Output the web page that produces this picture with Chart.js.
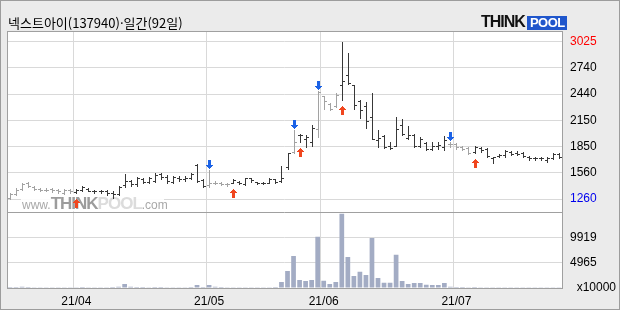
<!DOCTYPE html>
<html lang="ko">
<head>
<meta charset="utf-8">
<title>넥스트아이(137940) 일간</title>
<script src="https://cdn.jsdelivr.net/npm/chart.js@4.4.1/dist/chart.umd.min.js"></script>
<style>
  html, body { margin: 0; padding: 0; background: #ebebeb; }
  #wrap { position: relative; width: 620px; height: 310px; background: #ebebeb; overflow: hidden; }
  #wrap canvas { position: absolute; left: 0; top: 0; }
  #frame { position: absolute; left: 0; top: 0; width: 618px; height: 308px; border: 1px solid #9c9c9c; pointer-events: none; }
  #title { position: absolute; left: 8px; top: 15px; font-size: 13px; line-height: 16px; color: #000;
           font-family: "Noto Sans CJK KR", "Noto Sans", sans-serif; white-space: nowrap; }
  #logo { position: absolute; left: 481px; top: 14px; line-height: 16px; white-space: nowrap;
          font-family: "Liberation Sans", Arial, sans-serif; font-weight: bold; }
  #logo .think { font-size: 16px; letter-spacing: -1px; color: #111; }
  #logo .pool { display: inline-block; font-size: 13px; line-height: 14px; color: #fff; background: #1f56cc;
                padding: 0 2px 0 3px; letter-spacing: -0.5px; margin-left: 2px; }
</style>
</head>
<body>
<div id="wrap">
  <canvas id="stock-chart" width="620" height="310"></canvas>
  <div id="title">넥스트아이(137940)·일간(92일)</div>
  <div id="logo"><span class="think">THINK</span><span class="pool">POOL</span></div>
  <div id="frame"></div>
</div>
<script>
// trading days, 2021-03-17 .. 2021-07-26
const dates = [
    '03/17', '03/18', '03/19', '03/22', '03/23', '03/24', '03/25', '03/26', '03/29', '03/30', '03/31',
    '04/01', '04/02', '04/05', '04/06', '04/07', '04/08', '04/09', '04/12', '04/13', '04/14', '04/15',
    '04/16', '04/19', '04/20', '04/21', '04/22', '04/23', '04/26', '04/27', '04/28', '04/29', '04/30',
    '05/03', '05/04', '05/06', '05/07', '05/10', '05/11', '05/12', '05/13', '05/14', '05/17', '05/18',
    '05/20', '05/21', '05/24', '05/25', '05/26', '05/27', '05/28', '05/31',
    '06/01', '06/02', '06/03', '06/04', '06/07', '06/08', '06/09', '06/10', '06/11', '06/14', '06/15',
    '06/16', '06/17', '06/18', '06/21', '06/22', '06/23', '06/24', '06/25', '06/28', '06/29', '06/30',
    '07/01', '07/02', '07/05', '07/06', '07/07', '07/08', '07/09', '07/12', '07/13', '07/14', '07/15',
    '07/16', '07/19', '07/20', '07/21', '07/22', '07/23', '07/26'
];

const opens = [
    1270, 1315, 1370, 1445, 1395, 1370, 1360, 1370, 1360, 1325, 1360,
    1340, 1360, 1370, 1355, 1350, 1350, 1325, 1315, 1415, 1460,
    1425, 1490, 1450, 1460, 1540, 1505, 1450, 1500, 1485, 1495,
    1640, 1475, 1415, 1440, 1445, 1430, 1440, 1455, 1430, 1495,
    1450, 1440, 1440, 1485, 1460, 1615, 1785, 1975, 1935, 1900,
    2045, 2415, 2325, 2305, 2540, 2650, 2535, 2355, 2305, 2185,
    1920, 1965, 1850, 1860, 2085, 1945, 1975, 1850, 1890, 1820,
    1855, 1845, 1880, 1875, 1845, 1830, 1785, 1830, 1825, 1720,
    1745, 1755, 1785, 1775, 1775, 1730, 1720, 1720, 1700, 1720, 1765
];
const highs = [
    1325, 1380, 1440, 1455, 1405, 1385, 1385, 1385, 1370, 1370, 1370,
    1370, 1405, 1380, 1365, 1365, 1360, 1345, 1405, 1545, 1470,
    1505, 1500, 1505, 1550, 1550, 1525, 1520, 1520, 1520, 1555,
    1655, 1480, 1580, 1460, 1455, 1445, 1485, 1465, 1500, 1500,
    1455, 1455, 1495, 1490, 1630, 1780, 2035, 1995, 1980, 2085,
    2470, 2420, 2340, 2450, 3025, 2895, 2540, 2370, 2350, 2450,
    2035, 1980, 1900, 2185, 2160, 2075, 1990, 1960, 1895, 1905,
    1905, 1965, 1905, 1890, 1850, 1845, 1850, 1845, 1830, 1735,
    1765, 1810, 1795, 1795, 1785, 1745, 1735, 1735, 1730, 1775, 1775
];
const lows = [
    1260, 1310, 1360, 1395, 1360, 1350, 1350, 1340, 1325, 1315, 1325,
    1325, 1355, 1345, 1325, 1325, 1310, 1275, 1310, 1395, 1410,
    1410, 1440, 1435, 1450, 1490, 1440, 1440, 1460, 1460, 1480,
    1450, 1395, 1395, 1425, 1415, 1410, 1435, 1430, 1415, 1450,
    1430, 1425, 1435, 1445, 1450, 1600, 1775, 1900, 1840, 1855,
    1955, 2275, 2260, 2290, 2370, 2550, 2275, 2165, 2060, 1930,
    1845, 1835, 1820, 1855, 1975, 1930, 1845, 1845, 1810, 1810,
    1820, 1810, 1845, 1825, 1805, 1770, 1775, 1785, 1730, 1665,
    1730, 1735, 1755, 1750, 1730, 1700, 1700, 1700, 1675, 1705, 1715
];
const closes = [
    1315, 1365, 1430, 1405, 1370, 1360, 1365, 1360, 1345, 1360, 1350,
    1360, 1395, 1355, 1350, 1345, 1325, 1315, 1395, 1460, 1425,
    1495, 1450, 1495, 1530, 1505, 1460, 1505, 1480, 1495, 1540,
    1460, 1405, 1440, 1445, 1430, 1425, 1475, 1440, 1495, 1470,
    1440, 1435, 1485, 1455, 1500, 1775, 1905, 1980, 1960, 2055,
    2465, 2360, 2275, 2425, 2585, 2560, 2315, 2260, 2135, 1935,
    1950, 1845, 1830, 2040, 1990, 1980, 1855, 1935, 1820, 1855,
    1865, 1920, 1875, 1845, 1820, 1775, 1845, 1805, 1745, 1730,
    1755, 1800, 1765, 1765, 1745, 1720, 1725, 1715, 1720, 1765, 1730
];
// volume, in units of 10000 shares
const volumes = [
    210, 180, 240, 190, 160, 150, 170, 140, 150, 160, 150,
    170, 200, 150, 140, 150, 160, 180, 260, 785, 230,
    190, 200, 170, 210, 180, 170, 160, 150, 170, 190,
    590, 220, 590, 250, 180, 150, 140, 160, 150, 170,
    150, 140, 160, 210, 1180, 3340, 6290, 1575, 1375, 1575,
    10090, 1435, 785, 1180, 14600, 6095, 2360, 3205, 2555, 9830,
    1965, 1040, 1040, 6545, 1375, 785, 985, 985, 650, 590,
    590, 985, 240, 200, 180, 170, 190, 160, 150, 150,
    140, 150, 130, 140, 150, 140, 130, 140, 150, 140, 160
];

// signal markers (bar index)
const buySignals = [11, 37, 48, 55, 77];
const sellSignals = [33, 47, 51, 73];

const priceTicks = [1260, 1554, 1848, 2143, 2437, 2731, 3025];
const priceTickLabels = ['1260', '1560', '1850', '2150', '2440', '2740', '3025'];
const volumeTicks = [0, 4965, 9919, 14880];
const volumeTickLabels = ['  x10000', '4965', '9919', ''];

const GRID = '#d9d9d9';
const EDGE = '#a0a0a0';
const FONT = { family: 'Liberation Sans', size: 12 };

// first bar of every month gets a grid line and a label
const monthStarts = dates
    .map((d, i) => (i > 0 && d.slice(0, 2) !== dates[i - 1].slice(0, 2)) ? i : -1)
    .filter(i => i >= 0);

// bars after a sell signal are grey until the next buy signal
const barColors = [];
let holding = false;
dates.forEach((d, i) => {
    if (buySignals.includes(i)) holding = true;
    if (sellSignals.includes(i)) holding = false;
    barColors.push(holding ? '#383838' : '#a2a2a2');
});

const ARROW_ROWS = [1, 3, 5, 7, 3, 3, 3, 3, 3];

function drawArrow(ctx, x, yStart, up, color) {
    const rows = up ? ARROW_ROWS : ARROW_ROWS.slice().reverse();
    ctx.fillStyle = color;
    rows.forEach((w, r) => ctx.fillRect(x - (w - 1) / 2, yStart + r, w, 1));
}

const stockPlugin = {
    id: 'stockBars',
    beforeDraw(chart) {
        const { ctx, chartArea: a } = chart;
        ctx.save();
        ctx.fillStyle = '#ffffff';
        ctx.fillRect(a.left, a.top, a.right - a.left, a.bottom - a.top);
        ctx.restore();
    },
    beforeDatasetsDraw(chart) {
        // www.THINKPOOL.com watermark
        const { ctx, chartArea: a } = chart;
        const base = chart.scales.y.bottom - 3;
        ctx.save();
        ctx.fillStyle = 'rgba(255,255,255,0.9)';
        ctx.fillRect(a.left + 14, base - 16, 143, 18);
        const parts = [
            ['www.', '12px "Liberation Sans"', '#a8a8a8', '0px'],
            ['THINK', 'bold 17px "Liberation Sans"', '#9c9c9c', '-1px'],
            ['POOL', 'bold 17px "Liberation Sans"', '#dcdcdc', '-1px'],
            ['.com', '12px "Liberation Sans"', '#a8a8a8', '0px']
        ];
        let x = a.left + 15;
        parts.forEach(([text, font, color, spacing]) => {
            ctx.font = font;
            if ('letterSpacing' in ctx) ctx.letterSpacing = spacing;
            ctx.fillStyle = color;
            ctx.fillText(text, x, base);
            x += ctx.measureText(text).width;
        });
        ctx.restore();
    },
    afterDatasetsDraw(chart) {
        const { ctx } = chart;
        const xs = chart.scales.x;
        const ys = chart.scales.y;
        ctx.save();
        dates.forEach((d, i) => {
            const x = Math.round(xs.getPixelForValue(i));
            const yh = Math.round(ys.getPixelForValue(highs[i]));
            const yl = Math.round(ys.getPixelForValue(lows[i]));
            const yo = Math.round(ys.getPixelForValue(opens[i]));
            const yc = Math.round(ys.getPixelForValue(closes[i]));
            ctx.fillStyle = barColors[i];
            ctx.fillRect(x, yh, 1, Math.max(1, yl - yh + 1));
            ctx.fillRect(x - 2, yo, 2, 1);
            ctx.fillRect(x + 1, yc, 2, 1);
        });
        buySignals.forEach(i => {
            const x = Math.round(xs.getPixelForValue(i));
            drawArrow(ctx, x, Math.round(ys.getPixelForValue(lows[i])) + 6, true, '#f0461e');
        });
        sellSignals.forEach(i => {
            const x = Math.round(xs.getPixelForValue(i));
            drawArrow(ctx, x, Math.round(ys.getPixelForValue(highs[i])) - 10, false, '#1b62e6');
        });
        ctx.restore();
    },
    afterDraw(chart) {
        const { ctx, chartArea: a } = chart;
        ctx.save();
        ctx.strokeStyle = EDGE;
        ctx.lineWidth = 1;
        ctx.strokeRect(a.left + 0.5, a.top + 0.5, a.right - a.left, a.bottom - a.top);
        ctx.restore();
    }
};

const ctx = document.getElementById('stock-chart').getContext('2d');

new Chart(ctx, {
    type: 'bar',
    data: {
        labels: dates,
        datasets: [{
            label: '거래량',
            data: volumes,
            yAxisID: 'yv',
            backgroundColor: '#a3acc4',
            barPercentage: 0.78,
            categoryPercentage: 1
        }]
    },
    options: {
        responsive: false,
        animation: false,
        devicePixelRatio: 1,
        layout: { padding: { left: 7, top: 31, right: 0, bottom: 0 } },
        plugins: {
            legend: { display: false },
            tooltip: { enabled: false }
        },
        scales: {
            x: {
                offset: true,
                grid: {
                    offset: true,
                    drawTicks: false,
                    color: c => monthStarts.includes(c.index) ? GRID : 'rgba(0,0,0,0)'
                },
                border: { display: false },
                ticks: {
                    autoSkip: false,
                    maxRotation: 0,
                    minRotation: 0,
                    padding: 6,
                    color: '#000',
                    font: FONT,
                    callback: (v, i) => monthStarts.includes(i) ? '21/' + dates[i].slice(0, 2) : ''
                },
                afterFit: s => { s.height = 22; }
            },
            y: {
                position: 'right',
                stack: 'panel',
                stackWeight: 2.395,
                weight: 0,
                min: 1111,
                max: 3145,
                afterBuildTicks: s => { s.ticks = priceTicks.map(v => ({ value: v })); },
                grid: { color: GRID, drawTicks: false },
                border: { display: false },
                ticks: {
                    autoSkip: false,
                    padding: 8,
                    font: FONT,
                    color: c => c.index === 0 ? '#0000ee' : (c.index === priceTicks.length - 1 ? '#ff0000' : '#000'),
                    callback: (v, i) => priceTickLabels[i]
                },
                afterFit: s => { s.width = 58; }
            },
            yv: {
                position: 'right',
                stack: 'panel',
                stackWeight: 1,
                weight: 1,
                min: 0,
                max: 14880,
                afterBuildTicks: s => { s.ticks = volumeTicks.map(v => ({ value: v })); },
                grid: {
                    drawTicks: false,
                    color: c => (c.index === 0 || c.index === volumeTicks.length - 1) ? EDGE : GRID
                },
                border: { display: false },
                ticks: {
                    autoSkip: false,
                    padding: 8,
                    font: FONT,
                    color: '#000',
                    callback: (v, i) => volumeTickLabels[i]
                },
                afterFit: s => { s.width = 58; }
            }
        }
    },
    plugins: [stockPlugin]
});
</script>
</body>
</html>
